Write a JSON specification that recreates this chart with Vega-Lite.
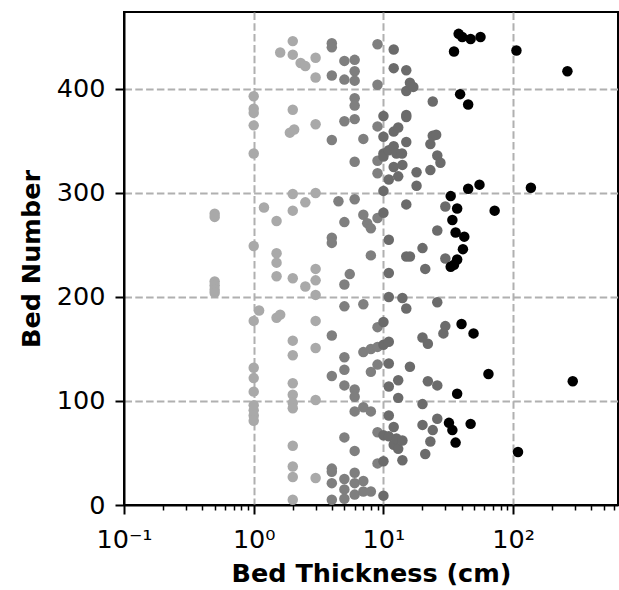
{
  "$schema": "https://vega.github.io/schema/vega-lite/v6.json",
  "width": 494,
  "height": 493,
  "autosize": {"type": "none"},
  "padding": {"left": 124, "top": 12, "right": 1, "bottom": 85},
  "background": "white",
  "config": {"view": {"stroke": "black", "strokeWidth": 2}, "font": "DejaVu Sans"},
  "data": {"values": [
    {"t":0.5,"n":280,"g":"A"},{"t":0.5,"n":277,"g":"A"},{"t":0.5,"n":215,"g":"A"},{"t":0.5,"n":211,"g":"A"},{"t":0.5,"n":207,"g":"A"},{"t":0.5,"n":204,"g":"A"},
    {"t":1,"n":393,"g":"A"},{"t":1,"n":381,"g":"A"},{"t":1,"n":377,"g":"A"},{"t":1,"n":365,"g":"A"},{"t":1,"n":338,"g":"A"},{"t":1,"n":249,"g":"A"},{"t":1,"n":177,"g":"A"},{"t":1,"n":132,"g":"A"},{"t":1,"n":122,"g":"A"},{"t":1,"n":109,"g":"A"},{"t":1,"n":96,"g":"A"},{"t":1,"n":91,"g":"A"},{"t":1,"n":86,"g":"A"},{"t":1,"n":81,"g":"A"},
    {"t":1.1,"n":187,"g":"A"},{"t":1.2,"n":286,"g":"A"},
    {"t":1.5,"n":273,"g":"A"},{"t":1.5,"n":242,"g":"A"},{"t":1.5,"n":233,"g":"A"},{"t":1.5,"n":220,"g":"A"},{"t":1.5,"n":180,"g":"A"},
    {"t":1.6,"n":183,"g":"A"},{"t":1.6,"n":435,"g":"A"},{"t":1.9,"n":358,"g":"A"},{"t":2.05,"n":361,"g":"A"},
    {"t":2,"n":446,"g":"A"},{"t":2,"n":433,"g":"A"},{"t":2,"n":380,"g":"A"},{"t":2,"n":299,"g":"A"},{"t":2,"n":283,"g":"A"},{"t":2,"n":218,"g":"A"},{"t":2,"n":158,"g":"A"},{"t":2,"n":144,"g":"A"},{"t":2,"n":117,"g":"A"},{"t":2,"n":106,"g":"A"},{"t":2,"n":98,"g":"A"},{"t":2,"n":93,"g":"A"},{"t":2,"n":57,"g":"A"},{"t":2,"n":37,"g":"A"},{"t":2,"n":27,"g":"A"},{"t":2,"n":5,"g":"A"},
    {"t":2.3,"n":425,"g":"A"},{"t":2.5,"n":422,"g":"A"},{"t":2.5,"n":291,"g":"A"},{"t":2.5,"n":210,"g":"A"},
    {"t":3,"n":430,"g":"A"},{"t":3,"n":411,"g":"A"},{"t":3,"n":366,"g":"A"},{"t":3,"n":300,"g":"A"},{"t":3,"n":227,"g":"A"},{"t":3,"n":216,"g":"A"},{"t":3,"n":202,"g":"A"},{"t":3,"n":177,"g":"A"},{"t":3,"n":151,"g":"A"},{"t":3,"n":101,"g":"A"},{"t":3,"n":26,"g":"A"},
    {"t":4,"n":444,"g":"B"},{"t":4,"n":440,"g":"B"},{"t":4,"n":413,"g":"B"},{"t":4,"n":351,"g":"B"},{"t":4,"n":257,"g":"B"},{"t":4,"n":252,"g":"B"},{"t":4,"n":163,"g":"B"},{"t":4,"n":124,"g":"B"},{"t":4,"n":35,"g":"B"},{"t":4,"n":32,"g":"B"},{"t":4,"n":21,"g":"B"},{"t":4,"n":5,"g":"B"},
    {"t":4.5,"n":292,"g":"B"},
    {"t":5,"n":427,"g":"B"},{"t":5,"n":409,"g":"B"},{"t":5,"n":369,"g":"B"},{"t":5,"n":272,"g":"B"},{"t":5,"n":212,"g":"B"},{"t":5,"n":191,"g":"B"},{"t":5,"n":142,"g":"B"},{"t":5,"n":130,"g":"B"},{"t":5,"n":115,"g":"B"},{"t":5,"n":65,"g":"B"},{"t":5,"n":25,"g":"B"},{"t":5,"n":15,"g":"B"},{"t":5,"n":6,"g":"B"},
    {"t":5.5,"n":222,"g":"B"},
    {"t":6,"n":428,"g":"B"},{"t":6,"n":417,"g":"B"},{"t":6,"n":408,"g":"B"},{"t":6,"n":391,"g":"B"},{"t":6,"n":384,"g":"B"},{"t":6,"n":371,"g":"B"},{"t":6,"n":330,"g":"B"},{"t":6,"n":294,"g":"B"},{"t":6,"n":111,"g":"B"},{"t":6,"n":104,"g":"B"},{"t":6,"n":90,"g":"B"},{"t":6,"n":52,"g":"B"},{"t":6,"n":31,"g":"B"},{"t":6,"n":21,"g":"B"},{"t":6,"n":10,"g":"B"},
    {"t":7,"n":352,"g":"B"},{"t":7,"n":279,"g":"B"},{"t":7,"n":193,"g":"B"},{"t":7,"n":147,"g":"B"},{"t":7,"n":94,"g":"B"},{"t":7,"n":23,"g":"B"},{"t":7,"n":13,"g":"B"},
    {"t":7.5,"n":271,"g":"B"},
    {"t":8,"n":266,"g":"B"},{"t":8,"n":240,"g":"B"},{"t":8,"n":150,"g":"B"},{"t":8,"n":128,"g":"B"},{"t":8,"n":90,"g":"B"},{"t":8,"n":13,"g":"B"},
    {"t":9,"n":443,"g":"B"},{"t":9,"n":404,"g":"B"},{"t":9,"n":364,"g":"B"},{"t":9,"n":331,"g":"B"},{"t":9,"n":319,"g":"B"},{"t":9,"n":276,"g":"B"},{"t":9,"n":171,"g":"B"},{"t":9,"n":152,"g":"B"},{"t":9,"n":135,"g":"B"},{"t":9,"n":70,"g":"B"},{"t":9,"n":40,"g":"B"},
    {"t":10,"n":374,"g":"C"},{"t":10,"n":354,"g":"C"},{"t":10,"n":338,"g":"C"},{"t":10,"n":335,"g":"C"},{"t":10,"n":302,"g":"C"},{"t":10,"n":281,"g":"C"},{"t":10,"n":176,"g":"C"},{"t":10,"n":154,"g":"C"},{"t":10,"n":67,"g":"C"},{"t":10,"n":42,"g":"C"},{"t":10,"n":9,"g":"C"},
    {"t":11,"n":341,"g":"C"},{"t":11,"n":313,"g":"C"},{"t":11,"n":255,"g":"C"},{"t":11,"n":223,"g":"C"},{"t":11,"n":200,"g":"C"},{"t":11,"n":157,"g":"C"},{"t":11,"n":136,"g":"C"},{"t":11,"n":114,"g":"C"},{"t":11,"n":86,"g":"C"},{"t":11,"n":66,"g":"C"},
    {"t":12,"n":438,"g":"C"},{"t":12,"n":420,"g":"C"},{"t":12,"n":345,"g":"C"},{"t":12,"n":359,"g":"C"},{"t":12,"n":325,"g":"C"},{"t":12,"n":75,"g":"C"},{"t":12,"n":58,"g":"C"},
    {"t":12.6,"n":338,"g":"C"},{"t":12.6,"n":64,"g":"C"},
    {"t":13,"n":363,"g":"C"},{"t":13,"n":316,"g":"C"},{"t":13,"n":120,"g":"C"},{"t":13,"n":103,"g":"C"},{"t":13,"n":54,"g":"C"},
    {"t":13.9,"n":338,"g":"C"},
    {"t":14,"n":327,"g":"C"},{"t":14,"n":199,"g":"C"},{"t":14,"n":62,"g":"C"},{"t":14,"n":43,"g":"C"},
    {"t":15,"n":418,"g":"C"},{"t":15,"n":398,"g":"C"},{"t":15,"n":375,"g":"C"},{"t":15,"n":373,"g":"C"},{"t":15,"n":349,"g":"C"},{"t":15,"n":289,"g":"C"},{"t":15,"n":239,"g":"C"},{"t":15,"n":189,"g":"C"},
    {"t":16,"n":406,"g":"C"},{"t":16,"n":239,"g":"C"},{"t":16,"n":133,"g":"C"},
    {"t":17,"n":402,"g":"C"},
    {"t":18,"n":320,"g":"C"},{"t":18,"n":307,"g":"C"},
    {"t":20,"n":247,"g":"C"},{"t":20,"n":161,"g":"C"},{"t":20,"n":97,"g":"C"},{"t":20,"n":77,"g":"C"},
    {"t":21,"n":227,"g":"C"},{"t":21,"n":49,"g":"C"},
    {"t":22,"n":155,"g":"C"},{"t":22,"n":119,"g":"C"},
    {"t":23,"n":347,"g":"C"},{"t":23,"n":322,"g":"C"},{"t":23,"n":61,"g":"C"},
    {"t":24,"n":388,"g":"C"},{"t":24,"n":355,"g":"C"},{"t":24,"n":72,"g":"C"},
    {"t":25.5,"n":356,"g":"C"},
    {"t":26,"n":336,"g":"C"},{"t":26,"n":264,"g":"C"},{"t":26,"n":195,"g":"C"},{"t":26,"n":115,"g":"C"},{"t":26,"n":83,"g":"C"},
    {"t":27.5,"n":329,"g":"C"},{"t":29,"n":165,"g":"C"},
    {"t":30,"n":287,"g":"C"},{"t":30,"n":237,"g":"C"},{"t":30,"n":172,"g":"C"},
    {"t":38,"n":453,"g":"D"},{"t":40.5,"n":450,"g":"D"},{"t":47,"n":448,"g":"D"},{"t":56,"n":450,"g":"D"},{"t":35,"n":436,"g":"D"},{"t":106,"n":437,"g":"D"},{"t":262,"n":417,"g":"D"},{"t":39,"n":395,"g":"D"},{"t":45,"n":385,"g":"D"},
    {"t":55,"n":308,"g":"D"},{"t":45,"n":304,"g":"D"},{"t":137,"n":305,"g":"D"},{"t":33,"n":297,"g":"D"},{"t":37,"n":285,"g":"D"},{"t":72,"n":283,"g":"D"},{"t":34,"n":274,"g":"D"},{"t":36,"n":262,"g":"D"},{"t":42,"n":258,"g":"D"},{"t":41,"n":246,"g":"D"},{"t":37,"n":236,"g":"D"},{"t":33,"n":229,"g":"D"},{"t":35,"n":231,"g":"D"},
    {"t":40,"n":174,"g":"D"},{"t":49.5,"n":165,"g":"D"},{"t":64.5,"n":126,"g":"D"},{"t":288,"n":119,"g":"D"},{"t":37,"n":107,"g":"D"},{"t":32,"n":79,"g":"D"},{"t":34,"n":72,"g":"D"},{"t":47,"n":78,"g":"D"},{"t":36,"n":60,"g":"D"},{"t":109,"n":51,"g":"D"}
  ]},
  "mark": {"type": "circle", "size": 110, "opacity": 1},
  "encoding": {
    "x": {
      "field": "t", "type": "quantitative",
      "scale": {"type": "log", "domain": [0.1, 643], "nice": false},
      "axis": {
        "title": "Bed Thickness (cm)",
        "values": [0.1,0.2,0.3,0.4,0.5,0.6,0.7,0.8,0.9,1,2,3,4,5,6,7,8,9,10,20,30,40,50,60,70,80,90,100,200,300,400,500,600],
        "labelExpr": "datum.value == 0.1 ? '10⁻¹' : datum.value == 1 ? '10⁰' : datum.value == 10 ? '10¹' : datum.value == 100 ? '10²' : ''",
        "labelFontSize": 25.5, "labelColor": "black", "labelPadding": 13, "labelFlush": false, "labelOverlap": false,
        "titleFontSize": 25.5, "titleFontWeight": "bold", "titleColor": "black", "titlePadding": 9,
        "domainColor": "black", "domainWidth": 2,
        "tickColor": "black",
        "tickSize": {"condition": {"test": "datum.value == 0.1 || datum.value == 1 || datum.value == 10 || datum.value == 100", "value": 9}, "value": 5},
        "tickWidth": {"condition": {"test": "datum.value == 0.1 || datum.value == 1 || datum.value == 10 || datum.value == 100", "value": 2}, "value": 1.5},
        "grid": true, "gridColor": "#b0b0b0", "gridWidth": 2, "gridDash": [7.5, 3.3],
        "gridOpacity": {"condition": {"test": "datum.value == 1 || datum.value == 10 || datum.value == 100", "value": 1}, "value": 0}
      }
    },
    "y": {
      "field": "n", "type": "quantitative",
      "scale": {"domain": [0, 474], "nice": false},
      "axis": {
        "title": "Bed Number",
        "values": [0, 100, 200, 300, 400],
        "labelFontSize": 25.5, "labelColor": "black", "labelPadding": 10,
        "titleFontSize": 25.5, "titleFontWeight": "bold", "titleColor": "black", "titlePadding": 12,
        "domainColor": "black", "domainWidth": 2,
        "tickColor": "black", "tickSize": 9, "tickWidth": 2,
        "grid": true, "gridColor": "#b0b0b0", "gridWidth": 2, "gridDash": [7.5, 3.3],
        "gridOpacity": {"condition": {"test": "datum.value > 0", "value": 1}, "value": 0}
      }
    },
    "color": {
      "field": "g", "type": "nominal",
      "scale": {"domain": ["A", "B", "C", "D"], "range": ["#a9a9a9", "#7f7f7f", "#6b6b6b", "#000000"]},
      "legend": null
    }
  }
}
